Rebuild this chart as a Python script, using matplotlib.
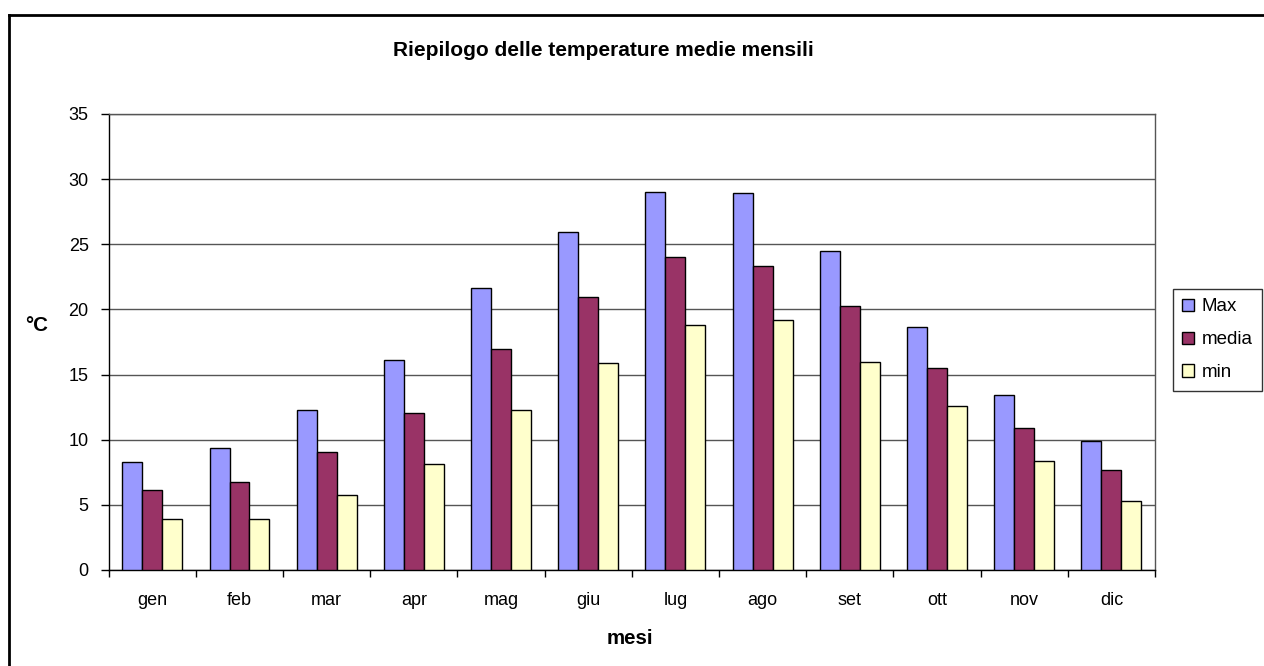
import numpy as np
import matplotlib.pyplot as plt
from matplotlib.lines import Line2D

plt.rcParams['font.family'] = ['Liberation Sans', 'DejaVu Sans']

mesi = ['gen', 'feb', 'mar', 'apr', 'mag', 'giu', 'lug', 'ago', 'set', 'ott', 'nov', 'dic']
t_max = [8.26, 9.39, 12.3, 16.1, 21.66, 25.98, 29.05, 28.93, 24.48, 18.64, 13.45, 9.9]
t_media = [6.11, 6.73, 9.03, 12.05, 17.0, 20.92, 24.0, 23.35, 20.28, 15.47, 10.92, 7.65]
t_min = [3.94, 3.94, 5.73, 8.1, 12.3, 15.86, 18.77, 19.16, 15.96, 12.58, 8.39, 5.32]

W, H = 1264, 666
fig = plt.figure(figsize=(W / 100, H / 100), dpi=100)

def px(x0, y0, x1, y1):
    return [x0 / W, 1 - y1 / H, (x1 - x0) / W, (y1 - y0) / H]

ax = fig.add_axes(px(108.7, 114, 1155, 570))

x = np.arange(len(mesi))
bw = 0.229
ax.bar(x - bw, t_max, bw, color='#9999FF', edgecolor='black', linewidth=1, label='Max', zorder=3)
ax.bar(x, t_media, bw, color='#993366', edgecolor='black', linewidth=1, label='media', zorder=3)
ax.bar(x + bw, t_min, bw, color='#FFFFCC', edgecolor='black', linewidth=1, label='min', zorder=3)

ax.set_xlim(-0.5, 11.5)
ax.set_ylim(0, 35)
ax.set_yticks(np.arange(0, 36, 5))
ax.yaxis.grid(True, color='#555555', linewidth=1, zorder=0)
ax.set_xticks(x)
ax.set_xticklabels(mesi)
ax.set_xticks(np.arange(-0.5, 12, 1), minor=True)
ax.tick_params(axis='x', which='major', length=0, pad=16, labelsize=13)
ax.tick_params(axis='x', which='minor', length=5, width=1, color='black')
ax.tick_params(axis='y', length=5.8, width=1, pad=8.6, labelsize=13)

for s in ['left', 'bottom']:
    ax.spines[s].set_color('black')
    ax.spines[s].set_linewidth(1)
for s in ['top', 'right']:
    ax.spines[s].set_color('#555555')
    ax.spines[s].set_linewidth(1)

fig.text(603 / W, 1 - 50 / H, 'Riepilogo delle temperature medie mensili',
         ha='center', va='center', fontsize=15, fontweight='bold')
fig.text(630 / W, 1 - 638 / H, 'mesi', ha='center', va='center',
         fontsize=14.8, fontweight='bold')
fig.text(37 / W, 1 - 325 / H, '°C', ha='center', va='center',
         fontsize=14.8, fontweight='bold')

leg = ax.legend(loc='upper left', bbox_to_anchor=(1173 / W, 1 - 289 / H),
                bbox_transform=fig.transFigure, frameon=True, fancybox=False,
                edgecolor='black', fontsize=13.5, handlelength=0.64, handleheight=0.64,
                handletextpad=0.37, borderpad=0.5, labelspacing=0.85, borderaxespad=0)
leg.get_frame().set_linewidth(1)

# outer chart border (only left and top visible in the frame)
fig.add_artist(Line2D([9 / W, 9 / W], [0, 1 - 15 / H], transform=fig.transFigure,
                      color='black', linewidth=2))
fig.add_artist(Line2D([9 / W, 1], [1 - 15 / H, 1 - 15 / H], transform=fig.transFigure,
                      color='black', linewidth=2))

fig.savefig('out.png', dpi=100)
